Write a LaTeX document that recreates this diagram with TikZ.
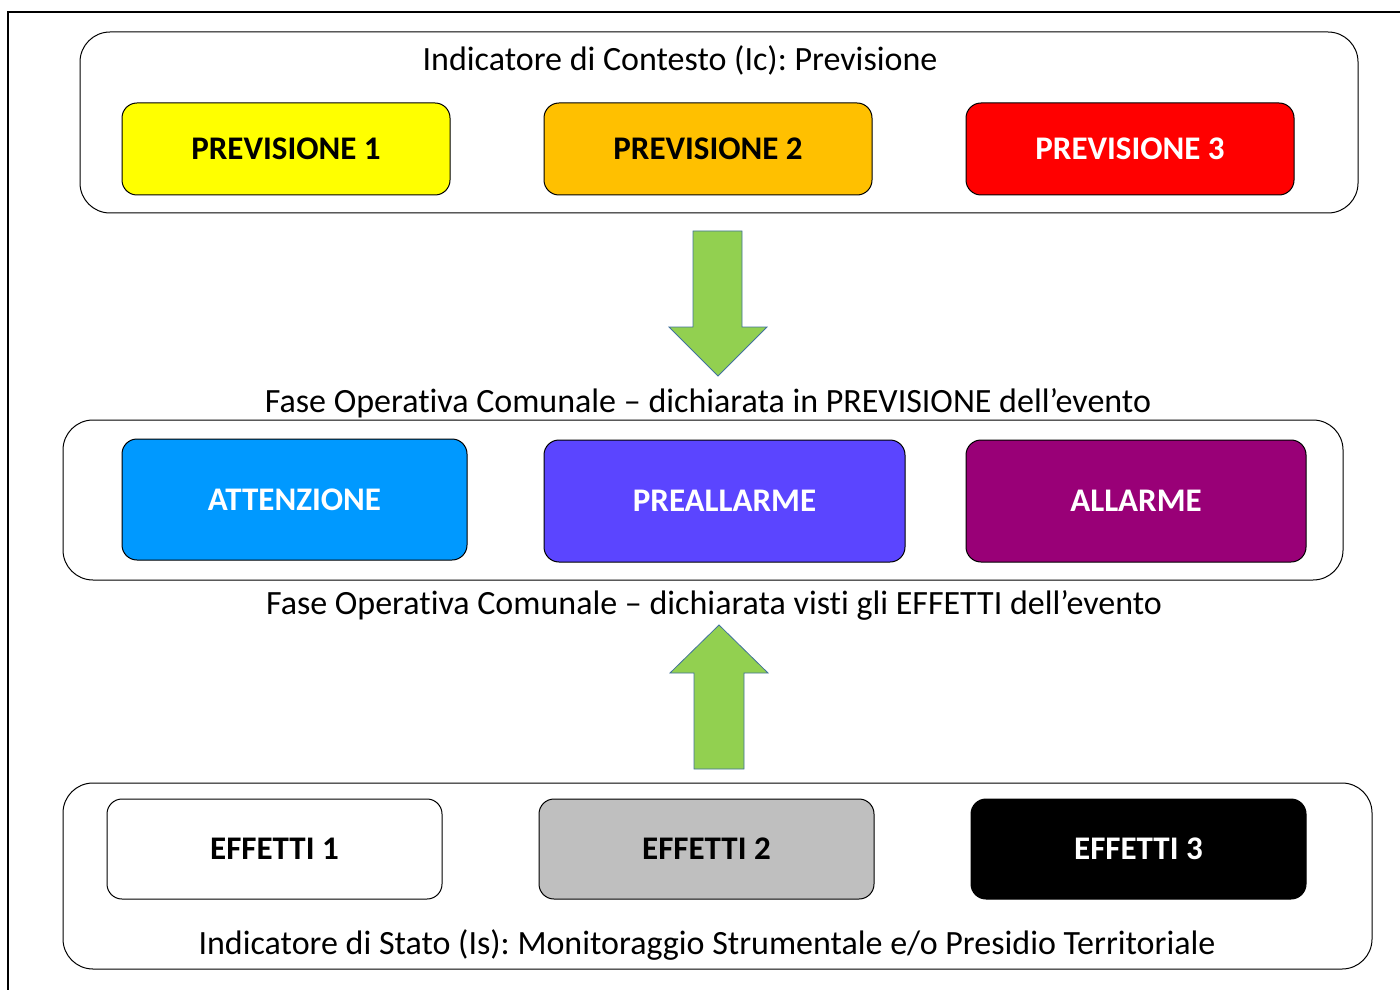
\documentclass[tikz,border=0pt]{standalone}
\usepackage{fontspec}
\setmainfont[RawFeature={-liga;-calt}]{Carlito}
\frenchspacing
\usetikzlibrary{positioning}
\definecolor{prevgiallo}{HTML}{FFFF00}
\definecolor{prevarancio}{HTML}{FFC000}
\definecolor{prevrosso}{HTML}{FF0000}
\definecolor{faseazzurro}{HTML}{0099FF}
\definecolor{faseviola}{HTML}{5B45FF}
\definecolor{faseporpora}{HTML}{990077}
\definecolor{effgrigio}{HTML}{BFBFBF}
\definecolor{frecciaverde}{HTML}{92D050}
\definecolor{frecciabordo}{HTML}{41719C}
\begin{document}
\begin{tikzpicture}[x=0.5pt,y=-0.5pt,
  every node/.style={font=\fontsize{17}{20}\selectfont},
  gruppo/.style={draw, rounded corners=15pt, line width=0.5pt, inner sep=0pt},
  casella/.style={draw, rounded corners=7.5pt, line width=0.5pt, font=\fontsize{16.5}{20}\selectfont\bfseries, inner sep=0pt},
  freccia/.style={draw=frecciabordo, fill=frecciaverde, line width=0.4pt}]
  \useasboundingbox (0,0) rectangle (1400,989);
  \draw[line width=1.2pt] (8,1010) -- (8,12) -- (1420,12);
  % Indicatore di Contesto
  \node[gruppo, minimum width=639pt, minimum height=90.5pt] (contesto) at (719,122.5) {};
  \node (titcontesto) at (680,60) {Indicatore di Contesto (Ic): Previsione};
  \node[casella, fill=prevgiallo, minimum width=164pt, minimum height=46pt] (prev1) at (286,149) {PREVISIONE 1};
  \node[casella, fill=prevarancio, minimum width=164pt, minimum height=46pt] (prev2) at (708,149) {PREVISIONE 2};
  \node[casella, fill=prevrosso, text=white, minimum width=164pt, minimum height=46pt] (prev3) at (1130,149) {PREVISIONE 3};
  % freccia giu
  \draw[freccia] (693,231) -- (742,231) -- (742,327) -- (767,327) -- (718,376) -- (669,327) -- (693,327) -- cycle;
  % Fase Operativa
  \node (titprev) at (708,403) {Fase Operativa Comunale -- dichiarata in PREVISIONE dell’evento};
  \node[gruppo, minimum width=640pt, minimum height=80pt] (fase) at (703,500) {};
  \node[casella, fill=faseazzurro, text=white, minimum width=172.5pt, minimum height=60.5pt] (attenzione) at (294.5,499.5) {ATTENZIONE};
  \node[casella, fill=faseviola, text=white, minimum width=180.5pt, minimum height=61pt] (preallarme) at (724.5,501) {PREALLARME};
  \node[casella, fill=faseporpora, text=white, minimum width=170pt, minimum height=61pt] (allarme) at (1136,501) {ALLARME};
  \node (titeff) at (714,605) {Fase Operativa Comunale -- dichiarata visti gli EFFETTI dell’evento};
  % freccia su
  \draw[freccia] (694,769) -- (744,769) -- (744,673) -- (768,673) -- (719,625) -- (670,673) -- (694,673) -- cycle;
  % Indicatore di Stato
  \node[gruppo, minimum width=654.5pt, minimum height=93pt] (stato) at (717.5,876) {};
  \node[casella, fill=white, minimum width=167.5pt, minimum height=50pt] (eff1) at (274.5,849) {EFFETTI 1};
  \node[casella, fill=effgrigio, minimum width=167.5pt, minimum height=50pt] (eff2) at (706.5,849) {EFFETTI 2};
  \node[casella, fill=black, text=white, minimum width=167.5pt, minimum height=50pt] (eff3) at (1138.5,849) {EFFETTI 3};
  \node (titstato) at (707,945) {Indicatore di Stato (Is): Monitoraggio Strumentale e/o Presidio Territoriale};
\end{tikzpicture}
\end{document}
